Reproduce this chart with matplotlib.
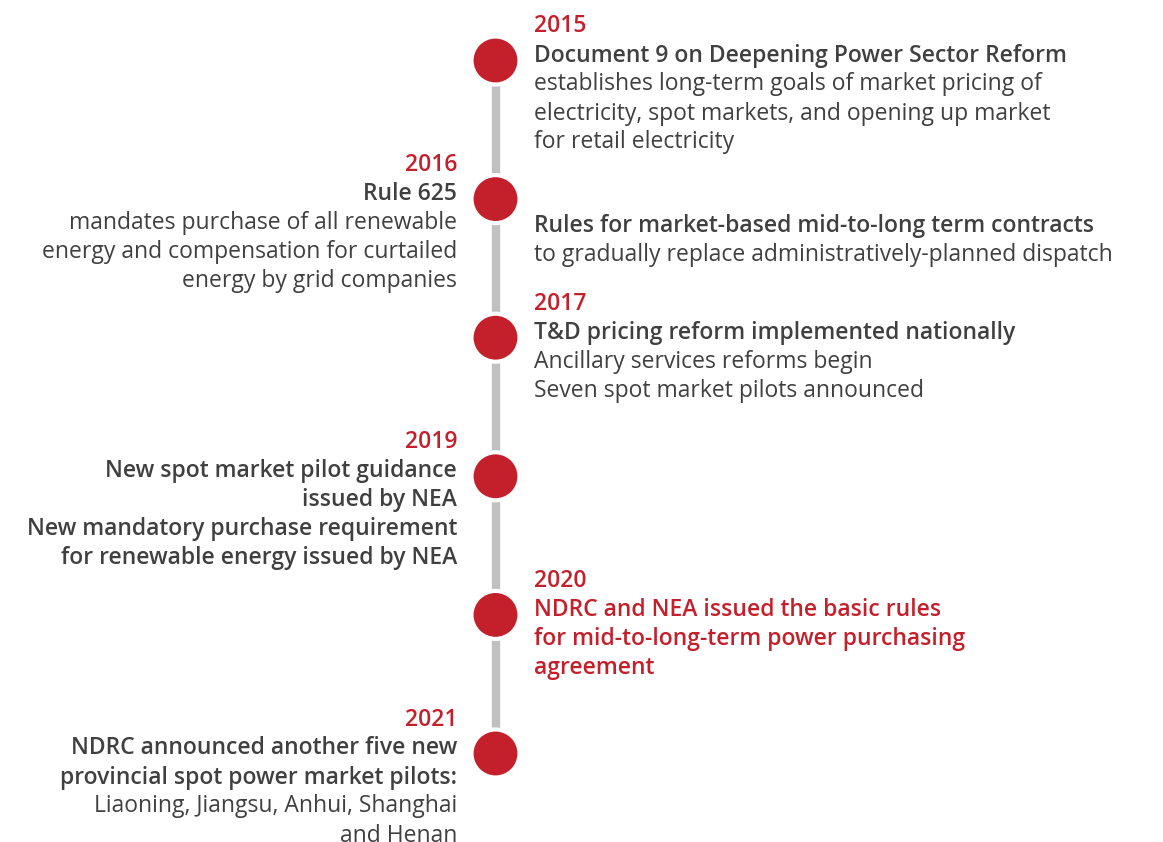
import matplotlib.pyplot as plt
from matplotlib.patches import Circle

plt.rcParams['font.family'] = ['Open Sans', 'DejaVu Sans']

RED = "#c4202b"
DARK = "#404040"
GREY = "#c0c0c0"

# one entry per milestone on the line
years = ["2015", "2016", "2017", "2019", "2020", "2021"]
sides = ["right", "left", "right", "left", "right", "left"]
heads = [
    ["Document 9 on Deepening Power Sector Reform"],
    ["Rule 625"],
    ["T&D pricing reform implemented nationally"],
    ["New spot market pilot guidance", "issued by NEA",
     "New mandatory purchase requirement", "for renewable energy issued by NEA"],
    ["NDRC and NEA issued the basic rules",
     "for mid-to-long-term power purchasing", "agreement"],
    ["NDRC announced another five new",
     "provincial spot power market pilots:"],
]
bodies = [
    ["establishes long-term goals of market pricing of",
     "electricity, spot markets, and opening up market",
     "for retail electricity"],
    ["mandates purchase of all renewable",
     "energy and compensation for curtailed",
     "energy by grid companies"],
    ["Ancillary services reforms begin",
     "Seven spot market pilots announced"],
    [],
    [],
    ["Liaoning, Jiangsu, Anhui, Shanghai", "and Henan"],
]
head_red = [False, False, False, False, True, False]

# extra note beside the 2016 dot
extra_head = "Rules for market-based mid-to-long term contracts"
extra_body = "to gradually replace administratively-planned dispatch"

W, H = 1163, 842
fig = plt.figure(figsize=(W / 100, H / 100), dpi=100)
ax = fig.add_axes([0, 0, 1, 1])
ax.set_xlim(0, W)
ax.set_ylim(H, 0)
ax.axis('off')

cx = 495.5
r = 24
step = 138.6
y0 = 60.5
dot_y = [y0 + i * step for i in range(len(years))]
lh = 29
fs = 16.5

ax.plot([cx, cx], [dot_y[0], dot_y[-1]], color=GREY, lw=6, solid_capstyle='butt', zorder=1)
for y in dot_y:
    ax.add_patch(Circle((cx, y), r, facecolor=RED, edgecolor='white', lw=3, zorder=2))

for i, yr in enumerate(years):
    if sides[i] == "right":
        x, ha = 534, 'left'
    else:
        x, ha = 457, 'right'
    ty = dot_y[i] - 28
    ax.text(x, ty, yr, color=RED, fontsize=fs, fontweight='semibold', ha=ha, va='baseline')
    ty += lh
    for line in heads[i]:
        ax.text(x, ty, line, color=RED if head_red[i] else DARK, fontsize=fs,
                fontweight='semibold', ha=ha, va='baseline')
        ty += lh
    for line in bodies[i]:
        ax.text(x, ty, line, color=DARK, fontsize=fs, ha=ha, va='baseline')
        ty += lh

ax.text(534, dot_y[1] + 33, extra_head, color=DARK, fontsize=fs, fontweight='semibold',
        ha='left', va='baseline')
ax.text(534, dot_y[1] + 33 + lh, extra_body, color=DARK, fontsize=fs, ha='left', va='baseline')

fig.savefig("out.png", dpi=100, facecolor='white')
